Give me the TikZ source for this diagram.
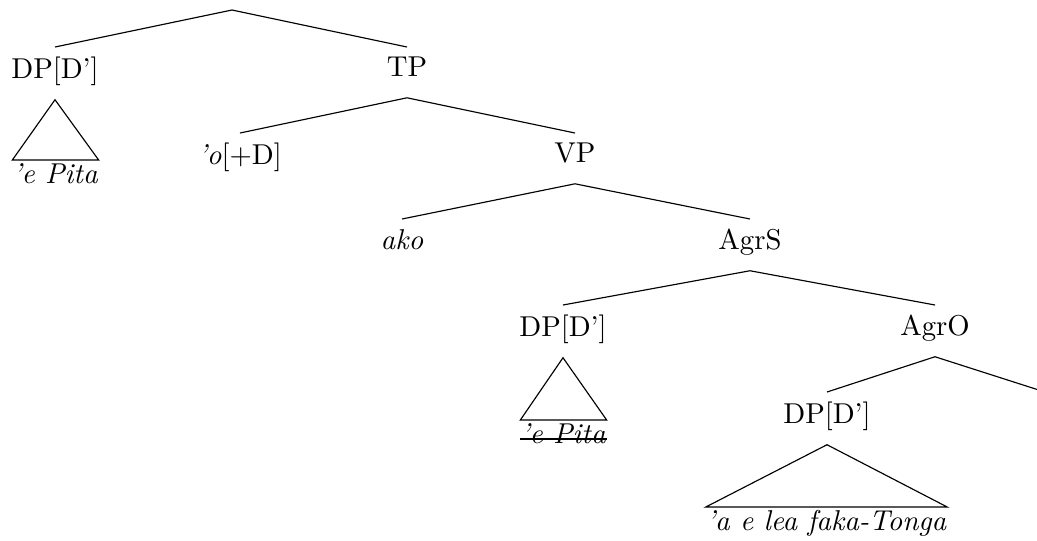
\documentclass[tikz,border=0pt]{standalone}
\begin{document}
\begin{tikzpicture}[x=0.3484pt,y=-0.3484pt,
        lbl/.style={anchor=north,text depth=3.8pt},
        leaf/.style={anchor=north,inner xsep=0pt,inner ysep=1pt}]
        \useasboundingbox (0,0) rectangle (1037,540);

        \coordinate (root) at (232,10);
        \node[lbl] (dpA) at (55,47) {DP[D']};
        \node[lbl] (tp) at (407,47) {TP};
        \node[leaf] (pitaA) at (55.5,160) {\textit{'e Pita}};
        \node[lbl] (o) at (240,133) {\textit{'o}[+D]};
        \node[lbl] (vp) at (575,133) {VP};
        \node[lbl] (ako) at (402,219) {\textit{ako}};
        \node[lbl] (agrS) at (750,219) {AgrS};
        \node[lbl] (dpB) at (563,305) {DP[D']};
        \node[lbl] (agrO) at (935,305) {AgrO};
        \node[leaf] (pitaB) at (563.5,420) {\textit{'e Pita}};
        \node[lbl] (dpC) at (827,392) {DP[D']};
        \coordinate (agrOr) at (1045,392);
        \node[leaf] (tonga) at (826.5,507) {\textit{'a e lea faka-Tonga}};

        \draw (dpA.north) -- (root) -- (tp.north);
        \draw (o.north) -- (tp.south) -- (vp.north);
        \draw (ako.north) -- (vp.south) -- (agrS.north);
        \draw (dpB.north) -- (agrS.south) -- (agrO.north);
        \draw (dpC.north) -- (agrO.south) -- (agrOr);

        \draw (dpA.south) -- (pitaA.north west) -- (pitaA.north east) -- cycle;
        \draw (dpB.south) -- (pitaB.north west) -- (pitaB.north east) -- cycle;
        \draw (dpC.south) -- (tonga.north west) -- (tonga.north east) -- cycle;

        \draw[line width=.8pt] ([yshift=1.6pt]pitaB.base west) -- ([yshift=1.6pt]pitaB.base east);
    \end{tikzpicture}
\end{document}
